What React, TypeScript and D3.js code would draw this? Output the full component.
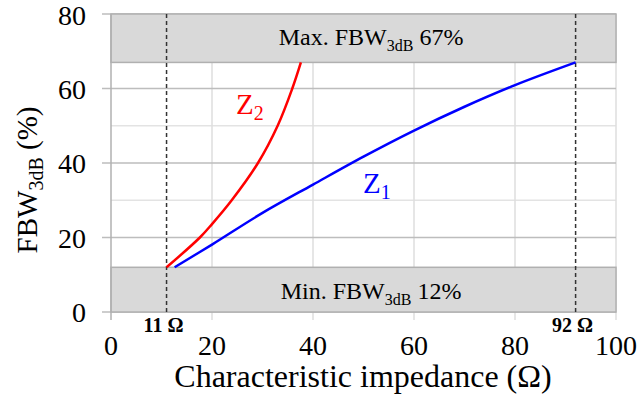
import React from "react";
import * as d3 from "d3";

// Bandwidth (%) versus characteristic impedance (Ω) for the two lines
const z1Impedance = [12.6, 20, 30, 40, 50, 60, 70, 80, 92];
const z1Bandwidth = [12, 18.1, 26.6, 34.2, 41.7, 48.7, 55.1, 60.9, 67];
const z2Impedance = [11, 17.6, 20, 23.9, 29.1, 33.0, 35.9, 37.6];
const z2Bandwidth = [12, 20, 23.6, 30, 40, 50, 60, 67];

const xTicks = [0, 20, 40, 60, 80, 100];
const yTicks = [0, 20, 40, 60, 80];
const yMinorTicks = [10, 30, 50, 70];

const minBandwidth = 12;
const maxBandwidth = 67;
const minImpedance = 11;
const maxImpedance = 92;

const W = 638;
const H = 401;
const FONT = "'Liberation Serif', 'Times New Roman', serif";

export default function App() {
  const x = d3.scaleLinear().domain([0, 100]).range([111, 616]);
  const y = d3.scaleLinear().domain([0, 80]).range([312, 14]);

  const line = d3
    .line<[number, number]>()
    .x((d) => x(d[0]))
    .y((d) => y(d[1]))
    .curve(d3.curveCatmullRom.alpha(0.5));

  const z1 = z1Impedance.map((v, i) => [v, z1Bandwidth[i]] as [number, number]);
  const z2 = z2Impedance.map((v, i) => [v, z2Bandwidth[i]] as [number, number]);

  const [x0, x1] = x.range();
  const midX = x(51.5);

  return (
    <svg
      width={W}
      height={H}
      style={{ position: "absolute", left: 0, top: 0, background: "#fff" }}
      fontFamily={FONT}
    >
      {/* minor horizontal grid */}
      {yMinorTicks.map((t) => (
        <line key={"ym" + t} x1={x0} x2={x1} y1={y(t)} y2={y(t)} stroke="#e3e3e3" strokeWidth={1.5} />
      ))}
      {/* vertical grid, extended below the axis as ticks */}
      {xTicks.slice(1).map((t) => (
        <line key={"xg" + t} x1={x(t)} x2={x(t)} y1={y(80)} y2={y(0) + 8} stroke="#dedede" strokeWidth={1.5} />
      ))}
      {/* major horizontal grid, extended left as ticks */}
      {yTicks.map((t) => (
        <line key={"yg" + t} x1={x0 - 9} x2={x1} y1={y(t)} y2={y(t)} stroke="#bdbdbd" strokeWidth={1.5} />
      ))}

      {/* limit bands */}
      <rect
        x={x0}
        y={y(80)}
        width={x1 - x0}
        height={y(maxBandwidth) - y(80)}
        fill="#d9d9d9"
        stroke="#b0b0b0"
        strokeWidth={1.5}
      />
      <rect
        x={x0}
        y={y(minBandwidth)}
        width={x1 - x0}
        height={y(0) - y(minBandwidth)}
        fill="#d9d9d9"
        stroke="#b0b0b0"
        strokeWidth={1.5}
      />

      {/* left axis */}
      <line x1={x0} x2={x0} y1={y(80)} y2={y(0) + 8} stroke="#b0b0b0" strokeWidth={1.5} />

      {/* band labels */}
      <text x={midX} y={45} textAnchor="middle" fontSize={24} fill="#000">
        Max. FBW
        <tspan fontSize={16} dy={6}>3dB</tspan>
        <tspan dy={-6}> {maxBandwidth}%</tspan>
      </text>
      <text x={midX} y={299} textAnchor="middle" fontSize={24} fill="#000">
        Min. FBW
        <tspan fontSize={16} dy={6}>3dB</tspan>
        <tspan dy={-6}> {minBandwidth}%</tspan>
      </text>

      {/* impedance limits */}
      {[minImpedance, maxImpedance].map((v) => (
        <g key={"lim" + v}>
          <line
            x1={x(v)}
            x2={x(v)}
            y1={y(80)}
            y2={y(0)}
            stroke="#333"
            strokeWidth={1.5}
            strokeDasharray="4,3"
          />
          <text x={x(v) - 3} y={332} textAnchor="middle" fontSize={20} fontWeight="bold" fill="#000">
            {v} Ω
          </text>
        </g>
      ))}

      {/* curves */}
      <path d={line(z2) || ""} fill="none" stroke="#ff0000" strokeWidth={2.5} />
      <path d={line(z1) || ""} fill="none" stroke="#0000ff" strokeWidth={2.5} />

      <text x={236} y={114} fontSize={29} fill="#ff0000">
        Z<tspan fontSize={20} dy={6}>2</tspan>
      </text>
      <text x={363} y={193} fontSize={29} fill="#0000ff">
        Z<tspan fontSize={20} dy={6}>1</tspan>
      </text>

      {/* tick labels */}
      {xTicks.map((t) => (
        <text key={"xl" + t} x={x(t)} y={355} textAnchor="middle" fontSize={28} fill="#000">
          {t}
        </text>
      ))}
      {yTicks.map((t) => (
        <text key={"yl" + t} x={86} y={Math.max(y(t) + 10, 25)} textAnchor="end" fontSize={28} fill="#000">
          {t}
        </text>
      ))}

      {/* axis titles */}
      <text x={363} y={387} textAnchor="middle" fontSize={32} fill="#000">
        Characteristic impedance (Ω)
      </text>
      <text transform="translate(37,180) rotate(-90)" textAnchor="middle" fontSize={29} fill="#000">
        FBW<tspan fontSize={20} dy={6}>3dB</tspan>
        <tspan dy={-6}> (%)</tspan>
      </text>
    </svg>
  );
}
